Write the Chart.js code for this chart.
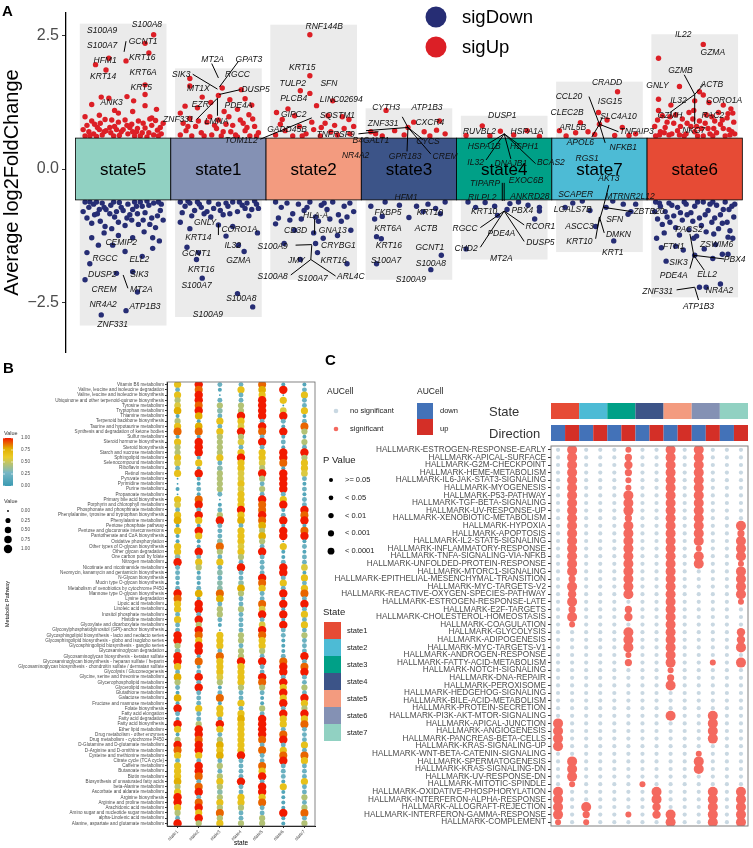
<!DOCTYPE html>
<html>
<head>
<meta charset="utf-8">
<script src="https://cdn.jsdelivr.net/npm/chart.js@4.4.1/dist/chart.umd.min.js"></script>
<style>
  body { margin:0; background:#fff; width:753px; height:848px; position:relative; overflow:hidden; }
  canvas { position:absolute; }
  #cA { left:0; top:0; }
  #cB { left:0; top:355px; }
  #cC { left:320px; top:340px; }
</style>
</head>
<body>
<canvas id="cA" width="753" height="365"></canvas>
<canvas id="cB" width="320" height="493"></canvas>
<canvas id="cC" width="433" height="508"></canvas>
<script>
// ---------- panel A : strip plot of log2FC per state ----------
const statesA = ['state5','state1','state2','state3','state4','state7','state6'];
const stateFillA = ['#91d1c2','#8491b4','#f39b7f','#3c5488','#00a087','#4dbbd5','#e64b35'];
const boxLimit = 0.58;
const bgTop = [2.73, 1.89, 2.71, 1.14, 1.00, 1.64, 2.53];
const bgBottom = [-2.94, -2.78, -2.08, -2.08, -1.70, -1.56, -2.41];
const yTicksA = [-2.5, 0, 2.5];

// per state: flat pairs of (jitter offset, avg log2FC)
const upPoints = [
  [.32,2.52, .23,2.36, .27,2.18, -.15,2.08, .03,2.03, -.29,1.96, -.18,1.86, .23,1.58, .23,1.40, -.23,1.35, -.15,1.33, .04,1.36, .11,1.28, -.33,1.21, -.09,1.10, .23,1.19, -.25,1.01, -.05,1.05, .10,1.08, .35,1.12, -.40,.98, .30,.96,
   -.40,.62, -.36,.70, -.31,.66, -.27,.78, -.22,.64, -.18,.72, -.13,.68, -.09,.80, -.04,.63, .00,.74, .05,.66, .09,.84, .14,.70, .18,.62, .23,.77, .27,.68, .32,.64, .36,.73, .40,.66,
   -.38,.82, -.33,.90, -.28,.61, -.24,.86, -.19,.93, -.14,.78, -.10,.62, -.05,.88, .02,.92, .07,.78, .12,.62, .16,.90, .21,.86, .25,.60, .30,.82, .34,.91, .39,.78,
   -.42,.74, -.35,.62, -.30,.84, -.20,.70, -.12,.92, -.02,.70, .04,.82, .10,.70, .20,.68, .28,.94, .37,.62, .42,.86, -.25,.74, -.07,.74, .15,.76],
  [-.30,1.70, -.30,1.56, .04,1.52, .24,1.49, .00,1.38, -.17,1.35, -.35,1.18, .35,1.20, -.08,1.25, .12,1.30, .28,1.32, -.22,1.15, .20,1.12, -.40,1.05, .06,1.08, .32,1.02,
   -.40,.64, -.34,.72, -.28,.62, -.24,.80, -.18,.68, -.12,.88, -.07,.64, -.02,.76, .03,.62, .08,.84, .13,.70, .18,.64, .23,.92, .28,.72, .33,.62, .38,.80, .42,.68,
   -.37,.86, -.30,.95, -.21,.90, -.15,.62, -.09,.98, .00,.92, .05,.70, .15,.82, .20,.60, .26,.86, .36,.94, .40,.62, -.32,.80, -.04,.82, .11,.98, .30,.78],
  [-.04,2.52, -.04,1.75, -.14,1.47, -.04,1.42, .03,1.19, .20,1.28, -.27,1.13, -.39,1.06, .37,.93, -.33,.93, .42,.80, -.20,1.00, .15,1.00, .30,.98,
   -.40,.64, -.30,.72, -.22,.62, -.15,.80, -.08,.66, .00,.74, .07,.62, .12,.86, .18,.70, .25,.64, .32,.76, .38,.66, -.35,.84, -.02,.88, .22,.82, -.12,.62, .08,.78],
  [-.24,1.10, .29,.73, .16,.70, -.01,.78, .38,.66, -.40,.70, -.15,.72, -.35,.66, .05,.88, -.28,.62, .22,.62, -.05,.64, .32,.90],
  [-.23,.81, -.04,.71, .24,.72, .37,.61, -.40,.63, .10,.64, -.15,.62],
  [.19,1.45, -.01,1.06, .00,.84, -.20,.87, -.42,.72, -.25,.68, .16,.63, .31,.63, -.05,.65, -.35,.62, .08,.92, -.12,.70, .38,.66, .24,.78],
  [.09,2.34, -.38,2.08, -.16,1.55, .09,1.39, -.38,1.31, .00,1.28, .38,1.13, -.38,1.10, .40,1.05, .30,1.20, -.25,1.20, .15,1.25, .05,1.45,
   -.41,.62, -.36,.70, -.31,.78, -.27,.64, -.22,.86, -.18,.72, -.13,.94, -.09,.66, -.04,.80, .00,.70, .05,.90, .09,.62, .14,.76, .18,.98, .23,.68, .27,.84, .32,.62, .36,.74, .41,.88,
   -.39,.92, -.34,1.00, -.29,.88, -.24,.66, -.20,1.02, -.15,.80, -.11,.62, -.06,1.06, -.02,.94, .03,.62, .07,.76, .12,1.02, .16,.66, .21,.90, .25,1.06, .30,.76, .34,.96, .39,.70,
   -.42,.80, -.32,.68, -.26,.98, -.16,.64, -.08,.86, .02,.80, .11,.86, .20,.76, .29,.92, .37,.64, .42,.66, -.37,.64, .19,.62, -.01,1.10, .35,1.04]
];
const downPoints = [
  [-.23,-2.74, .03,-2.66, .15,-2.31, -.40,-2.08, .10,-1.93, -.07,-1.96, -.35,-1.78, .02,-1.55, -.38,-1.57, .20,-1.64, -.26,-1.43, -.11,-1.43, .31,-1.49, .31,-1.29, -.33,-1.29, .10,-1.29, -.20,-1.20, .38,-1.35, -.05,-1.25, .22,-1.18,
   -.40,-.62, -.36,-.72, -.31,-.66, -.27,-.84, -.22,-.64, -.18,-.76, -.13,-.68, -.09,-.90, -.04,-.63, .00,-.78, .05,-.66, .09,-.96, .14,-.70, .18,-.62, .23,-.82, .27,-.68, .32,-.64, .36,-.88, .40,-.66,
   -.38,-.92, -.33,-1.02, -.28,-.62, -.24,-.98, -.19,-1.08, -.14,-.84, -.10,-.62, -.05,-1.00, .02,-1.06, .07,-.86, .12,-.62, .16,-1.04, .21,-.96, .25,-.60, .30,-.92, .34,-1.10, .39,-.78,
   -.42,-.80, -.35,-.62, -.30,-.86, -.20,-.72, -.12,-1.12, -.02,-.72, .04,-.92, .10,-.76, .20,-.70, .28,-1.04, .37,-.62, .42,-.96, -.25,-.76, -.07,-.80, .15,-.84],
  [.00,-1.05, -.30,-1.12, .21,-1.43, .27,-1.55, -.33,-1.47, -.21,-1.57, -.23,-1.70, -.17,-2.05, .20,-2.34, .36,-2.59, .08,-1.26, .41,-1.20, -.40,-1.00, .15,-1.08,
   -.40,-.62, -.35,-.70, -.30,-.64, -.25,-.78, -.20,-.66, -.15,-.84, -.10,-.62, -.05,-.74, .00,-.66, .05,-.86, .10,-.70, .15,-.62, .20,-.80, .25,-.68, .30,-.64, .35,-.76, .40,-.66,
   -.38,-.82, -.28,-.88, -.18,-.72, -.08,-.90, .02,-.78, .12,-.84, .22,-.62, .32,-.88, .42,-.74, -.32,-.60, -.12,-.80, .08,-.64, .28,-.74, .38,-.60, -.22,-.62],
  [.02,-1.40, .04,-1.57, .00,-1.20, .35,-1.78, -.14,-1.70, -.31,-1.40, -.40,-1.03, .39,-1.15, -.20,-1.15, .25,-1.25, .10,-1.30,
   -.40,-.62, -.34,-.72, -.28,-.64, -.22,-.84, -.16,-.66, -.10,-.78, -.04,-.62, .02,-.90, .08,-.68, .14,-.76, .20,-.62, .26,-.86, .32,-.70, .38,-.64, .42,-.80, -.37,-.92, -.25,-.96, -.13,-.94, .05,-.98, .17,-.94, .29,-.98, -.07,-.72, .11,-.64, .35,-.90],
  [.00,-.91, -.36,-.94, -.28,-.89, -.34,-1.27, -.29,-1.31, -.34,-1.78, .34,-1.62, .23,-1.89, .33,-.84, .20,-.66, -.25,-.62, -.10,-.68, .08,-.70, .38,-.62, -.40,-.70, .15,-.80, .28,-.74],
  [.06,-.65, -.07,-.87, .32,-.94, .37,-.79, .37,-.72, -.40,-1.50, -.30,-.72, -.20,-.63, -.10,-.70, .15,-.62, .25,-.68, -.38,-.62, .03,-.76],
  [.33,-.80, -.04,-1.08, .15,-1.35, -.36,-.72, .07,-.72, -.18,-.60, .14,-.60, .25,-.66, -.28,-.64, .38,-.66, -.10,-.78, .30,-.85],
  [.00,-1.62, .19,-1.68, .29,-1.60, .35,-1.60, -.30,-1.73, -.12,-1.52, .05,-2.22, .12,-2.22, .27,-2.16, -.40,-1.30, .40,-1.30, -.20,-1.45, .10,-1.50, -.35,-1.48, .22,-1.42,
   -.41,-.62, -.36,-.70, -.31,-.80, -.27,-.64, -.22,-.88, -.18,-.72, -.13,-.96, -.09,-.66, -.04,-.82, .00,-.70, .05,-.92, .09,-.62, .14,-.78, .18,-1.00, .23,-.68, .27,-.86, .32,-.62, .36,-.76, .41,-.90,
   -.39,-.94, -.34,-1.04, -.29,-.90, -.24,-.68, -.20,-1.10, -.15,-.82, -.11,-.62, -.06,-1.14, -.02,-.98, .03,-.62, .07,-1.06, .12,-1.18, .16,-.66, .21,-.92, .25,-1.12, .30,-.76, .34,-1.00, .39,-.70,
   -.42,-.80, -.32,-1.20, -.26,-1.00, -.16,-1.24, -.08,-.86, .02,-1.26, .11,-.86, .20,-1.22, .29,-1.02, .37,-1.16, .42,-.66, -.37,-.64, .19,-.62, -.01,-1.30, .35,-1.28]
];

// gene labels: [x (state index units), log2FC, gene]
const geneLabels = [
  [-.22,2.60,'S100A9'],[.25,2.71,'S100A8'],[-.22,2.31,'S100A7'],[.21,2.40,'GCNT1'],[-.19,2.03,'HFM1'],[.20,2.10,'KRT16'],[-.21,1.73,'KRT14'],[.21,1.81,'KRT6A'],[.19,1.52,'KRT5'],[-.12,1.24,'ANK3'],
  [.94,2.05,'MT2A'],[1.32,2.05,'GPAT3'],[.61,1.78,'SIK3'],[1.20,1.77,'RGCC'],[.79,1.50,'MT1X'],[1.39,1.49,'DUSP5'],[.81,1.21,'EZR'],[1.21,1.19,'PDE4A'],[.58,.93,'ZNF331'],[.98,.89,'LMNA'],
  [2.11,2.67,'RNF144B'],[1.88,1.91,'KRT15'],[1.78,1.61,'TULP2'],[2.16,1.60,'SFN'],[1.79,1.33,'PLCB4'],[2.29,1.31,'LINC02694'],[1.79,1.03,'GIPC2'],[2.25,1.01,'SQSTM1'],[1.72,.73,'GADD45B'],[1.24,.54,'TOM1L2'],[2.23,.65,'TNFRSF9'],
  [2.76,1.15,'CYTH3'],[3.19,1.15,'ATP1B3'],[2.73,.86,'ZNF331'],[3.22,.87,'CXCR4'],[2.60,.54,'B4GALT1'],[3.20,.52,'CYCS'],[2.44,.26,'NR4A2'],[2.96,.23,'GPR183'],[3.38,.23,'CREM'],
  [3.98,1.00,'DUSP1'],[3.74,.70,'RUVBL2'],[4.24,.70,'HSPA1A'],[3.79,.42,'HSPA1B'],[4.21,.42,'HSPH1'],[3.70,.12,'IL32'],[4.07,.10,'DNAJB1'],[4.49,.12,'BCAS2'],
  [5.08,1.63,'CRADD'],[4.68,1.35,'CCL20'],[5.11,1.26,'ISG15'],[4.66,1.05,'CLEC2B'],[5.20,.98,'SLC4A10'],[4.72,.77,'ARL5B'],[5.39,.70,'TNFAIP3'],[4.80,.49,'APOL6'],[5.25,.40,'NFKB1'],[4.87,.19,'RGS1'],
  [5.88,2.52,'IL22'],[6.19,2.18,'GZMA'],[5.85,1.85,'GZMB'],[5.61,1.57,'GNLY'],[6.18,1.59,'ACTB'],[5.83,1.29,'IL32'],[6.31,1.29,'CORO1A'],[5.74,1.01,'GZMH'],[6.19,1.01,'RAC2'],[5.99,.72,'NKG7'],
  [-.02,-1.38,'CEMIP2'],[-.19,-1.68,'RGCC'],[.17,-1.70,'ELL2'],[-.22,-1.98,'DUSP2'],[.17,-1.98,'SIK3'],[-.20,-2.26,'CREM'],[.19,-2.27,'MT2A'],[-.21,-2.54,'NR4A2'],[.23,-2.59,'ATP1B3'],[-.11,-2.92,'ZNF331'],
  [.86,-1.01,'GNLY'],[1.22,-1.14,'CORO1A'],[.79,-1.29,'KRT14'],[1.15,-1.43,'IL32'],[.77,-1.59,'GCNT1'],[1.21,-1.73,'GZMA'],[.82,-1.89,'KRT16'],[.77,-2.19,'S100A7'],[1.24,-2.43,'S100A8'],[.89,-2.74,'S100A9'],
  [2.02,-.87,'HLA-A'],[1.81,-1.15,'CD3D'],[2.20,-1.15,'GNA13'],[1.57,-1.45,'S100A9'],[2.26,-1.43,'CRYBG1'],[1.82,-1.73,'JMY'],[2.21,-1.73,'KRT16'],[1.57,-2.03,'S100A8'],[1.99,-2.06,'S100A7'],[2.39,-2.03,'ARL4C'],
  [2.97,-.54,'HFM1'],[2.78,-.82,'FKBP5'],[3.22,-.82,'KRT10'],[2.78,-1.12,'KRT6A'],[3.18,-1.12,'ACTB'],[2.79,-1.43,'KRT16'],[3.22,-1.47,'GCNT1'],[2.76,-1.73,'S100A7'],[3.23,-1.77,'S100A8'],[3.02,-2.08,'S100A9'],
  [3.80,-.28,'TIPARP'],[4.23,-.21,'EXOC6B'],[3.77,-.54,'RILPL2'],[4.27,-.51,'ANKRD28'],[3.79,-.80,'KRT10'],[4.19,-.79,'PBX4'],[3.59,-1.12,'RGCC'],[4.38,-1.08,'RCOR1'],[3.97,-1.21,'PDE4A'],[3.60,-1.49,'CHD2'],[4.38,-1.38,'DUSP5'],[3.97,-1.68,'MT2A'],
  [5.10,-.19,'AKT3'],[4.75,-.49,'SCAPER'],[5.32,-.52,'MTRNR2L12'],[4.72,-.77,'LGALS7B'],[5.52,-.80,'ZBTB20'],[5.16,-.96,'SFN'],[4.79,-1.08,'ASCC3'],[5.20,-1.24,'DMKN'],[4.79,-1.36,'KRT10'],[5.14,-1.57,'KRT1'],
  [5.94,-1.14,'PACS2'],[5.78,-1.45,'FTH1'],[6.23,-1.42,'ZSWIM6'],[5.83,-1.75,'SIK3'],[6.42,-1.71,'PBX4'],[5.78,-2.01,'PDE4A'],[6.13,-1.99,'ELL2'],[5.61,-2.31,'ZNF331'],[6.26,-2.29,'NR4A2'],[6.04,-2.59,'ATP1B3']
];
// label connector segments [x1, y1, x2, y2]
const labelLinks = [
  [.03,2.40,.01,2.20],
  [.93,1.98,1.0,1.71],[1.21,2.02,1.01,1.54],[.73,1.78,.99,1.50],[1.23,1.49,1.01,1.40],[.77,.93,.99,1.33],[.99,1.0,.99,1.33],
  [1.44,.56,1.98,.96],[2.47,.66,2.68,.70],
  [2.99,.78,2.93,.98],[2.99,.78,2.98,.33],[2.99,.78,3.23,.28],[2.99,.78,2.55,.72],[2.99,.78,3.15,.55],
  [4.0,.66,3.81,.17],[4.0,.66,4.07,.19],[4.0,.66,4.33,.10],[4.0,.66,3.83,.47],[4.0,.66,4.16,.45],
  [4.0,-.26,4.0,-.60],[3.98,-.26,3.98,-.60],
  [4.0,-.79,3.75,-1.10],[4.0,-.79,3.75,-1.47],[4.0,-.79,4.21,-1.05],[4.0,-.79,4.21,-1.36],
  [5.0,.84,4.89,1.36],[5.0,.84,5.03,.98],[5.0,.84,5.2,.70],[5.0,.84,5.06,.49],[5.0,.84,4.92,.60],
  [5.04,-.72,5.1,-.30],[5.04,-.72,5.34,-.80],[5.04,-.72,4.98,-1.08],[5.0,-.9,4.96,-1.31],[5.0,-.9,5.05,-1.2],
  [6.0,1.4,5.89,1.77],[6.0,1.4,5.74,1.06],[6.0,1.4,6.1,1.6],[6.0,1.4,6.0,.84],
  [5.99,-1.62,5.95,-1.22],[5.99,-1.62,6.31,-1.69],[5.99,-1.62,6.1,-1.9],[5.99,-1.62,5.95,-1.87],
  [6.0,-2.22,5.81,-2.27],[6.0,-2.22,6.04,-2.46],
  [0,-1.99,.05,-2.24],
  [2.01,-.94,2.01,-1.22],[1.81,-1.43,1.98,-1.42],[1.97,-1.70,1.76,-1.99],[1.97,-1.70,2.23,-2.01],[1.97,-1.70,1.98,-1.43],
  [1.0,-1.03,1.0,-1.24]
];

// ---------- panel B : metabolic pathway dot plot ----------
const pathways = [
  'Vitamin B6 metabolism','Valine, leucine and isoleucine degradation','Valine, leucine and isoleucine biosynthesis',
  'Ubiquinone and other terpenoid-quinone biosynthesis','Tyrosine metabolism','Tryptophan metabolism','Thiamine metabolism',
  'Terpenoid backbone biosynthesis','Taurine and hypotaurine metabolism','Synthesis and degradation of ketone bodies',
  'Sulfur metabolism','Steroid hormone biosynthesis','Steroid biosynthesis','Starch and sucrose metabolism',
  'Sphingolipid metabolism','Selenocompound metabolism','Riboflavin metabolism','Retinol metabolism','Pyruvate metabolism',
  'Pyrimidine metabolism','Purine metabolism','Propanoate metabolism','Primary bile acid biosynthesis',
  'Porphyrin and chlorophyll metabolism','Phosphonate and phosphinate metabolism',
  'Phenylalanine, tyrosine and tryptophan biosynthesis','Phenylalanine metabolism','Pentose phosphate pathway',
  'Pentose and glucuronate interconversions','Pantothenate and CoA biosynthesis','Oxidative phosphorylation',
  'Other types of O-glycan biosynthesis','Other glycan degradation','One carbon pool by folate','Nitrogen metabolism',
  'Nicotinate and nicotinamide metabolism','Neomycin, kanamycin and gentamicin biosynthesis','N-Glycan biosynthesis',
  'Mucin type O-glycan biosynthesis','Metabolism of xenobiotics by cytochrome P450','Mannose type O-glycan biosynthesis',
  'Lysine degradation','Lipoic acid metabolism','Linoleic acid metabolism','Inositol phosphate metabolism',
  'Histidine metabolism','Glyoxylate and dicarboxylate metabolism','Glycosylphosphatidylinositol (GPI)-anchor biosynthesis',
  'Glycosphingolipid biosynthesis - lacto and neolacto series','Glycosphingolipid biosynthesis - globo and isoglobo series',
  'Glycosphingolipid biosynthesis - ganglio series','Glycosaminoglycan degradation',
  'Glycosaminoglycan biosynthesis - keratan sulfate','Glycosaminoglycan biosynthesis - heparan sulfate / heparin',
  'Glycosaminoglycan biosynthesis - chondroitin sulfate / dermatan sulfate','Glycolysis / Gluconeogenesis',
  'Glycine, serine and threonine metabolism','Glycerophospholipid metabolism','Glycerolipid metabolism',
  'Glutathione metabolism','Galactose metabolism','Fructose and mannose metabolism','Folate biosynthesis',
  'Fatty acid elongation','Fatty acid degradation','Fatty acid biosynthesis','Ether lipid metabolism',
  'Drug metabolism - other enzymes','Drug metabolism - cytochrome P450','D-Glutamine and D-glutamate metabolism',
  'D-Arginine and D-ornithine metabolism','Cysteine and methionine metabolism','Citrate cycle (TCA cycle)',
  'Caffeine metabolism','Butanoate metabolism','Biotin metabolism','Biosynthesis of unsaturated fatty acids',
  'beta-Alanine metabolism','Ascorbate and aldarate metabolism','Arginine biosynthesis','Arginine and proline metabolism',
  'Arachidonic acid metabolism','Amino sugar and nucleotide sugar metabolism','alpha-Linolenic acid metabolism',
  'Alanine, aspartate and glutamate metabolism'
];
const statesB = ['state1','state2','state3','state4','state5','state6','state7'];
// scaled activity per pathway (one digit per pathway, value = digit / 9), one string per state
const valState1 = '6264571468 1644652600 1065267161 1663922212 9866262299 4399627421 7192196149 8626667469 96429';
const valState2 = '9899897178 1999161911 2189296196 1192641212 7199294986 9918129292 2262249989 9629982892 89694';
const valState3 = '2102432626 4444623444 4201249222 3842623233 8724421066 6286665412 8166296247 6724246434 64846';
const valState4 = '2622449659 4526966556 5666967266 6564292237 4224222244 2449666642 2626766666 6922229226 64224';
const valState5 = '8769999298 2926654942 4298898747 4292222986 2285925986 6429229842 1142999982 8228692996 82244';
const valState6 = '1906059219 1219981999 9269129199 0611299262 9191919221 1128992969 6929662892 6892221611 11911';
const valState7 = '1262261284 1429466521 2122989189 1212251626 8292626242 2292892242 9649682226 2862226224 24824';
const valueTicks = [0, 0.25, 0.5, 0.75, 1];
const zissouStops = [[0,'#3A9AB2'],[0.28,'#78B7C5'],[0.6,'#EBCC2A'],[0.78,'#E1AF00'],[1,'#F21A00']];

// ---------- panel C : hallmark AUCell dot plot ----------
const hallmarks = [
  'ESTROGEN-RESPONSE-EARLY','APICAL-SURFACE','G2M-CHECKPOINT','HEME-METABOLISM','IL6-JAK-STAT3-SIGNALING','MYOGENESIS',
  'P53-PATHWAY','TGF-BETA-SIGNALING','UV-RESPONSE-UP','XENOBIOTIC-METABOLISM','HYPOXIA','APOPTOSIS','IL2-STAT5-SIGNALING',
  'INFLAMMATORY-RESPONSE','TNFA-SIGNALING-VIA-NFKB','UNFOLDED-PROTEIN-RESPONSE','MTORC1-SIGNALING',
  'EPITHELIAL-MESENCHYMAL-TRANSITION','MYC-TARGETS-V2','REACTIVE-OXYGEN-SPECIES-PATHWAY','ESTROGEN-RESPONSE-LATE',
  'E2F-TARGETS','CHOLESTEROL-HOMEOSTASIS','COAGULATION','GLYCOLYSIS','ADIPOGENESIS','MYC-TARGETS-V1','ANDROGEN-RESPONSE',
  'FATTY-ACID-METABOLISM','NOTCH-SIGNALING','DNA-REPAIR','PEROXISOME','HEDGEHOG-SIGNALING','BILE-ACID-METABOLISM',
  'PROTEIN-SECRETION','PI3K-AKT-MTOR-SIGNALING','APICAL-JUNCTION','ANGIOGENESIS','PANCREAS-BETA-CELLS','KRAS-SIGNALING-UP',
  'WNT-BETA-CATENIN-SIGNALING','SPERMATOGENESIS','KRAS-SIGNALING-DN','UV-RESPONSE-DN','MITOTIC-SPINDLE',
  'OXIDATIVE-PHOSPHORYLATION','INTERFERON-ALPHA-RESPONSE','ALLOGRAFT-REJECTION','INTERFERON-GAMMA-RESPONSE','COMPLEMENT'
].map(s => 'HALLMARK-' + s);
const statesC = ['state1','state2','state3','state4','state5','state6','state7'];
const stateColorsC = ['#e64b35','#4dbbd5','#00a087','#3c5488','#f39b7f','#8491b4','#91d1c2'];
const directions = ['down','up'];
const directionColors = ['#4372b8','#d42f27'];
const pLabels = ['>= 0.05','< 0.05','< 0.01','< 0.001','< 0.0001'];
// p-value class per hallmark x (state, direction) column; 0 = not significant
const pLevel = [
  '04000100404000','04000200404000','04000300404000','04000200404000','04000100404000',
  '04000100404000','04000400404000','04000400404000','04000400404000','04000200404000',
  '04000400404004','04000400404002','04000400404004','04000400401004','04000400404004',
  '04000400404001','04000400400004','02000400400004','04000400400004','03000400400004',
  '04000000400001','02000200400000','04000300400000','01000000400000','00000400400003',
  '00000400400003','00000400400004','00000100400000','00000200400104','00000000100000',
  '00000000200000','00000000400000','00000000000000','00000000000000','00000000000000',
  '00000000400400','40000000000400','40000000000400','40000000000400','40000000000000',
  '00000000001000','04000000004000','04000000004000','04000000000000','01000010000000',
  '40000004000404','40000004000404','40400003000404','40200103400404','10100000400404'
];

Chart.defaults.font.family = '"Liberation Sans", Arial, Helvetica, sans-serif';
Chart.defaults.color = '#4d4d4d';

const colUp = '#dc1f26', colDown = '#262d74';
const sigColor = '#f4695f', nsColor = '#c9d8e2';
const pRadius = [2.1, 3.0, 3.6, 4.2, 5.0];

function flatPairs(list) {
  const out = [];
  list.forEach((arr, i) => { for (let k = 0; k < arr.length; k += 2) out.push({ x: i + arr[k], y: arr[k + 1] }); });
  return out;
}
function hexRgb(h) { return [1, 3, 5].map(i => parseInt(h.slice(i, i + 2), 16)); }
function zissou(v) {
  for (let i = 1; i < zissouStops.length; i++) {
    const [p1, c1] = zissouStops[i], [p0, c0] = zissouStops[i - 1];
    if (v <= p1) {
      const t = (v - p0) / (p1 - p0), a = hexRgb(c0), b = hexRgb(c1);
      return 'rgb(' + a.map((x, j) => Math.round(x + (b[j] - x) * t)).join(',') + ')';
    }
  }
  return zissouStops[zissouStops.length - 1][1];
}
const sizeB = v => 0.9 + 3.3 * Math.sqrt(v);

// ================= chart A =================
const panelA = {
  id: 'panelA',
  beforeDatasetsDraw(ch) {
    const { ctx, scales: { x, y } } = ch;
    ctx.save();
    ctx.fillStyle = '#ebebeb';
    statesA.forEach((s, i) => {
      const l = x.getPixelForValue(i - 0.455), r = x.getPixelForValue(i + 0.455);
      const t = y.getPixelForValue(bgTop[i]), b = y.getPixelForValue(bgBottom[i]);
      ctx.fillRect(l, t, r - l, b - t);
    });
    ctx.restore();
  },
  afterDatasetsDraw(ch) {
    const { ctx, scales: { x, y } } = ch;
    ctx.save();
    const t = y.getPixelForValue(boxLimit), b = y.getPixelForValue(-boxLimit);
    statesA.forEach((s, i) => {
      const l = x.getPixelForValue(i - 0.5), r = x.getPixelForValue(i + 0.5);
      ctx.fillStyle = stateFillA[i];
      ctx.fillRect(l, t, r - l, b - t);
      ctx.strokeStyle = '#000'; ctx.lineWidth = 0.8;
      ctx.strokeRect(l, t, r - l, b - t);
    });
    ctx.fillStyle = '#000';
    ctx.font = '17px "Liberation Sans", Arial, sans-serif';
    ctx.textAlign = 'center'; ctx.textBaseline = 'middle';
    statesA.forEach((s, i) => ctx.fillText(s, x.getPixelForValue(i), y.getPixelForValue(0) + 1));
    // connectors
    ctx.strokeStyle = '#000'; ctx.lineWidth = 1;
    labelLinks.forEach(([x1, y1, x2, y2]) => {
      ctx.beginPath();
      ctx.moveTo(x.getPixelForValue(x1), y.getPixelForValue(y1));
      ctx.lineTo(x.getPixelForValue(x2), y.getPixelForValue(y2));
      ctx.stroke();
    });
    ctx.fillStyle = '#111';
    ctx.font = 'italic 8.5px "Liberation Sans", Arial, sans-serif';
    geneLabels.forEach(([gx, gy, g]) => ctx.fillText(g, x.getPixelForValue(gx), y.getPixelForValue(gy)));
    // legend
    ctx.textAlign = 'left';
    ctx.font = '18.5px "Liberation Sans", Arial, sans-serif';
    [['sigDown', colDown, 17], ['sigUp', colUp, 47]].forEach(([lab, c, ly]) => {
      ctx.fillStyle = c; ctx.beginPath(); ctx.arc(436, ly, 10.5, 0, Math.PI * 2); ctx.fill();
      ctx.fillStyle = '#000'; ctx.fillText(lab, 462, ly + 1);
    });
    ctx.font = 'bold 15px "Liberation Sans", Arial, sans-serif';
    ctx.fillText('A', 2, 12);
    ctx.restore();
  }
};

new Chart(document.getElementById('cA'), {
  type: 'scatter',
  data: {
    datasets: [
      { label: 'sigDown', data: flatPairs(downPoints), backgroundColor: colDown, borderWidth: 0, pointRadius: 2.7 },
      { label: 'sigUp', data: flatPairs(upPoints), backgroundColor: colUp, borderWidth: 0, pointRadius: 2.7 }
    ]
  },
  options: {
    responsive: false, animation: false, devicePixelRatio: 1, events: [],
    layout: { padding: 0 },
    plugins: { legend: { display: false }, tooltip: { enabled: false } },
    scales: {
      x: { type: 'linear', min: -0.6, max: 6.57, display: false },
      y: {
        type: 'linear', min: -3.444, max: 2.937,
        afterFit(s) { s.width = 66; },
        afterBuildTicks(s) { s.ticks = yTicksA.map(v => ({ value: v })); },
        ticks: { font: { size: 16 }, color: '#4d4d4d', padding: 3,
                 callback: v => (v < 0 ? '\u2212' : '') + Math.abs(v).toFixed(1) },
        grid: { drawOnChartArea: false, tickLength: 4, color: '#333' },
        border: { color: '#000', width: 1.3 },
        title: { display: true, text: 'Average log2FoldChange', font: { size: 20 }, color: '#000', padding: { top: 0, bottom: 0 } }
      }
    }
  },
  plugins: [panelA]
});

// ================= chart B =================
const valsB = [valState1, valState2, valState3, valState4, valState5, valState6, valState7].map(s => s.replace(/ /g, ''));
const dataB = [];
valsB.forEach((str, c) => { for (let r = 0; r < pathways.length; r++) dataB.push({ x: c + 1, y: r + 1, v: +str[r] / 9 }); });

const panelB = {
  id: 'panelB',
  afterDraw(ch) {
    const { ctx, chartArea: a } = ch;
    ctx.save();
    ctx.strokeStyle = '#666'; ctx.lineWidth = 0.8;
    ctx.strokeRect(a.left, a.top, a.right - a.left, a.bottom - a.top);
    ctx.fillStyle = '#000';
    ctx.font = 'bold 15px "Liberation Sans", Arial, sans-serif';
    ctx.textBaseline = 'middle'; ctx.textAlign = 'left';
    ctx.fillText('B', 3, 14);
    // colour bar legend
    ctx.font = '5.5px "Liberation Sans", Arial, sans-serif';
    ctx.fillStyle = '#333';
    ctx.fillText('Value', 4, 78);
    const gTop = 83, gH = 48;
    const grad = ctx.createLinearGradient(0, gTop + gH, 0, gTop);
    zissouStops.forEach(([p, c]) => grad.addColorStop(p, c));
    ctx.fillStyle = grad; ctx.fillRect(3, gTop, 10, gH);
    ctx.fillStyle = '#4d4d4d'; ctx.font = '4.6px "Liberation Sans", Arial, sans-serif';
    valueTicks.forEach(v => ctx.fillText(v.toFixed(2), 21, gTop + gH - v * gH));
    ctx.fillStyle = '#fff';
    valueTicks.forEach(v => { ctx.fillRect(3, gTop + gH - v * gH - 0.3, 2, 0.6); ctx.fillRect(11, gTop + gH - v * gH - 0.3, 2, 0.6); });
    // size legend
    ctx.fillStyle = '#333'; ctx.font = '5.5px "Liberation Sans", Arial, sans-serif';
    ctx.fillText('Value', 4, 146);
    valueTicks.forEach((v, i) => {
      const yy = 156 + i * 9.5;
      ctx.fillStyle = '#000'; ctx.beginPath(); ctx.arc(8, yy, sizeB(v), 0, Math.PI * 2); ctx.fill();
      ctx.fillStyle = '#4d4d4d'; ctx.font = '4.6px "Liberation Sans", Arial, sans-serif';
      ctx.fillText(v.toFixed(2), 21, yy);
    });
    ctx.restore();
  }
};

new Chart(document.getElementById('cB'), {
  type: 'scatter',
  data: { datasets: [{ data: dataB, borderWidth: 0,
    backgroundColor: c => zissou(c.raw ? c.raw.v : 0),
    pointRadius: c => sizeB(c.raw ? c.raw.v : 0) }] },
  options: {
    responsive: false, animation: false, devicePixelRatio: 1, events: [],
    layout: { padding: { top: 27, right: 5, left: 0, bottom: 0 } },
    plugins: { legend: { display: false }, tooltip: { enabled: false } },
    scales: {
      x: {
        type: 'linear', min: 0.5, max: 7.5,
        afterBuildTicks(s) { s.ticks = statesB.map((_, i) => ({ value: i + 1 })); },
        afterFit(s) { s.height = 22; },
        ticks: { font: { size: 4.6 }, color: '#4d4d4d', minRotation: 45, maxRotation: 45, padding: 1, autoSkip: false,
                 callback: v => statesB[v - 1] },
        grid: { drawOnChartArea: false, tickLength: 2, color: '#333' },
        border: { color: '#000', width: 1 },
        title: { display: true, text: 'state', font: { size: 6.5 }, color: '#000', padding: { top: 0, bottom: 1 } }
      },
      y: {
        type: 'linear', min: 0.5, max: pathways.length + 0.5, reverse: true,
        afterBuildTicks(s) { s.ticks = pathways.map((_, i) => ({ value: i + 1 })); },
        afterFit(s) { s.width = 167; },
        ticks: { font: { size: 4.6 }, color: '#4d4d4d', padding: 1, autoSkip: false,
                 callback: v => pathways[v - 1] },
        grid: { drawOnChartArea: false, tickLength: 2, color: '#333' },
        border: { color: '#000', width: 1 },
        title: { display: true, text: 'Metabolic Pathway', font: { size: 5.5 }, color: '#000', padding: { top: 4, bottom: 0 } }
      }
    }
  },
  plugins: [panelB]
});

// ================= chart C =================
const nsData = [], sigData = [];
pLevel.forEach((row, r) => {
  for (let c = 0; c < row.length; c++) {
    const lv = +row[c];
    (lv ? sigData : nsData).push({ x: c, y: r + 1, p: lv });
  }
});

const panelC = {
  id: 'panelC',
  afterDraw(ch) {
    const { ctx, chartArea: a, scales: { x } } = ch;
    ctx.save();
    ctx.strokeStyle = '#7f7f7f'; ctx.lineWidth = 1;
    ctx.strokeRect(a.left, a.top, a.right - a.left, a.bottom - a.top);
    // annotation bars
    statesC.forEach((s, k) => {
      const l = x.getPixelForValue(2 * k - 0.5), r = x.getPixelForValue(2 * k + 1.5);
      ctx.fillStyle = stateColorsC[k]; ctx.fillRect(l, 63, r - l, 16);
      directions.forEach((d, j) => {
        const l2 = x.getPixelForValue(2 * k + j - 0.5), r2 = x.getPixelForValue(2 * k + j + 0.5);
        ctx.fillStyle = directionColors[j]; ctx.fillRect(l2, 85, r2 - l2, 16);
      });
    });
    ctx.textBaseline = 'middle'; ctx.textAlign = 'left';
    ctx.fillStyle = '#333'; ctx.font = '13px "Liberation Sans", Arial, sans-serif';
    ctx.fillText('State', 169, 72);
    ctx.fillText('Direction', 169, 94);
    ctx.fillStyle = '#000'; ctx.font = 'bold 15px "Liberation Sans", Arial, sans-serif';
    ctx.fillText('C', 5, 21);
    // AUCell legends
    ctx.font = '8.5px "Liberation Sans", Arial, sans-serif'; ctx.fillStyle = '#222';
    ctx.fillText('AUCell', 7, 52);
    ctx.fillText('AUCell', 97, 52);
    ctx.font = '7.5px "Liberation Sans", Arial, sans-serif';
    [['no significant', nsColor, 71], ['significant', sigColor, 89]].forEach(([lab, c, yy]) => {
      ctx.fillStyle = c; ctx.beginPath(); ctx.arc(16, yy, 2.3, 0, Math.PI * 2); ctx.fill();
      ctx.fillStyle = '#222'; ctx.fillText(lab, 30, yy);
    });
    directions.forEach((d, j) => {
      ctx.fillStyle = directionColors[j]; ctx.fillRect(97, 63 + 16 * j, 16, 16);
      ctx.fillStyle = '#222'; ctx.fillText(d, 120, 71 + 18 * j);
    });
    // p value legend
    ctx.font = '9.5px "Liberation Sans", Arial, sans-serif';
    ctx.fillText('P Value', 3, 120);
    ctx.font = '7.5px "Liberation Sans", Arial, sans-serif';
    pLabels.forEach((lab, i) => {
      const yy = 140 + i * 17.8;
      ctx.fillStyle = '#000'; ctx.beginPath(); ctx.arc(11, yy, 2 + 0.35 * i, 0, Math.PI * 2); ctx.fill();
      ctx.fillStyle = '#222'; ctx.fillText(lab, 25, yy);
    });
    // state legend
    ctx.font = '9.5px "Liberation Sans", Arial, sans-serif';
    ctx.fillText('State', 3, 272);
    ctx.font = '7.5px "Liberation Sans", Arial, sans-serif';
    statesC.forEach((s, k) => {
      ctx.fillStyle = stateColorsC[k]; ctx.fillRect(4, 282 + 17 * k, 17, 17);
      ctx.fillStyle = '#222'; ctx.fillText(s, 27, 290.5 + 17 * k);
    });
    ctx.restore();
  }
};

new Chart(document.getElementById('cC'), {
  type: 'scatter',
  data: { datasets: [
    { data: nsData, backgroundColor: nsColor, borderWidth: 0, pointRadius: pRadius[0] },
    { data: sigData, backgroundColor: sigColor, borderWidth: 0, pointRadius: c => pRadius[c.raw ? c.raw.p : 1] }
  ] },
  options: {
    responsive: false, animation: false, devicePixelRatio: 1, events: [],
    layout: { padding: { top: 106, right: 1, left: 0, bottom: 22 } },
    plugins: { legend: { display: false }, tooltip: { enabled: false } },
    scales: {
      x: { type: 'linear', min: -0.5, max: 13.5, display: false },
      y: {
        type: 'linear', min: 0.5, max: hallmarks.length + 0.5, reverse: true,
        afterBuildTicks(s) { s.ticks = hallmarks.map((_, i) => ({ value: i + 1 })); },
        afterFit(s) { s.width = 231; },
        ticks: { font: { size: 8.2 }, color: '#4d4d4d', padding: 2, autoSkip: false, callback: v => hallmarks[v - 1] },
        grid: { drawOnChartArea: false, tickLength: 3, color: '#333' },
        border: { display: false }
      }
    }
  },
  plugins: [panelC]
});
</script>
</body>
</html>
